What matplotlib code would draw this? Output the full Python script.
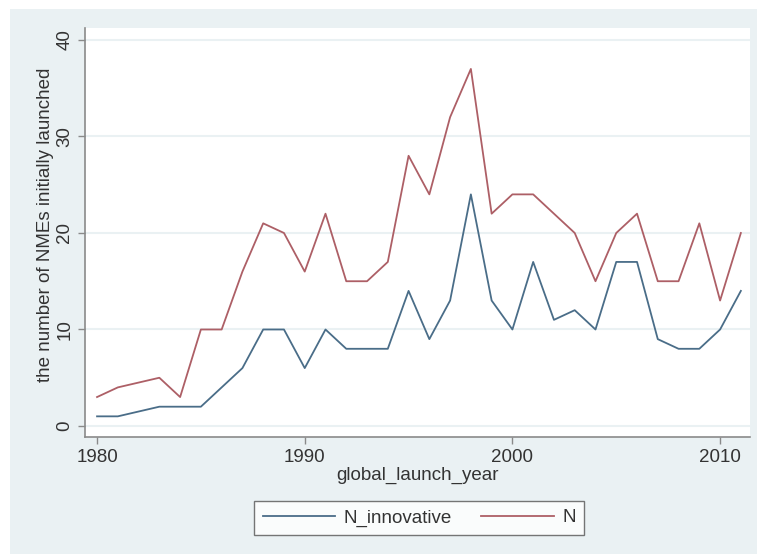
import matplotlib
matplotlib.use("Agg")
import matplotlib.pyplot as plt
from matplotlib.patches import Rectangle

years = list(range(1980, 2012))
n_innovative = [1, 1, 1.5, 2, 2, 2, 4, 6, 10, 10, 6, 10, 8, 8, 8, 14,
                9, 13, 24, 13, 10, 17, 11, 12, 10, 17, 17, 9, 8, 8, 10, 14]
n_total = [3, 4, 4.5, 5, 3, 10, 10, 16, 21, 20, 16, 22, 15, 15, 17, 28,
           24, 32, 37, 22, 24, 24, 22, 20, 15, 20, 22, 15, 15, 21, 13, 20]
x_ticks = [1980, 1990, 2000, 2010]
y_ticks = [0, 10, 20, 30, 40]

bg = '#eaf1f3'
blue = '#4a6d88'
red = '#ad5f66'
axis_col = '#8a8a8a'
fs = 13.5

plt.rcParams['font.family'] = ['Liberation Sans', 'DejaVu Sans']

W, H = 757, 554
fig = plt.figure(figsize=(W / 100, H / 100), dpi=100)
fig.patch.set_facecolor('white')
fig.patches.append(Rectangle((10 / W, 0), 1 - 10 / W, 1 - 9 / H,
                             transform=fig.transFigure, facecolor=bg,
                             edgecolor='none', zorder=-10))

left, right, top, bottom = 85, 750, 28, 437
ax = fig.add_axes([left / W, 1 - bottom / H, (right - left) / W, (bottom - top) / H])
ax.set_facecolor('white')

ax.plot(years, n_innovative, color=blue, lw=1.3, label='N_innovative')
ax.plot(years, n_total, color=red, lw=1.3, label='N')

ax.set_xlim(1979.42, 2011.44)
ax.set_ylim(-1.14, 41.24)
ax.set_xticks(x_ticks)
ax.set_yticks(y_ticks)
ax.set_yticklabels([str(v) for v in y_ticks], rotation=90, va='center')
ax.grid(axis='y', color=bg, lw=1.5)
ax.set_axisbelow(True)

for s in ['top', 'right']:
    ax.spines[s].set_visible(False)
for s in ['left', 'bottom']:
    ax.spines[s].set_color(axis_col)
    ax.spines[s].set_linewidth(1.2)
ax.tick_params(colors='#333333', labelsize=fs, length=5, width=1, direction='out')
ax.tick_params(axis='both', color=axis_col)

ax.set_xlabel('global_launch_year', fontsize=fs, color='#333333', labelpad=1)
ax.set_ylabel('the number of NMEs initially launched', fontsize=fs, color='#333333')
ax.yaxis.set_label_coords(-0.047, 0.518)

leg = fig.legend(loc='center', bbox_to_anchor=(419 / W, 1 - 518 / H), ncol=2,
                 fontsize=fs, frameon=True, fancybox=False, handlelength=3.85,
                 handletextpad=0.45, columnspacing=1.6, borderpad=0.45)
leg.get_frame().set_edgecolor('#555555')
leg.get_frame().set_linewidth(1.0)
for t in leg.get_texts():
    t.set_color('#333333')

fig.savefig('out.png', dpi=100, facecolor=fig.get_facecolor())
